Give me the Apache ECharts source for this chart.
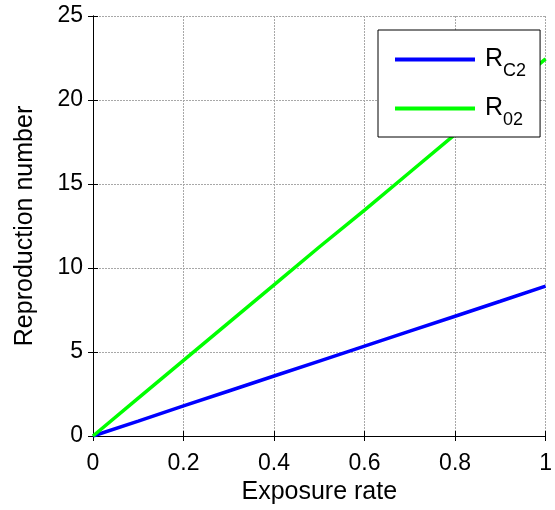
<!DOCTYPE html>
<html>
<head>
<meta charset="UTF-8">
<title></title>
<script src="https://cdn.jsdelivr.net/npm/echarts@6/dist/echarts.min.js"></script>
<style>
  body { margin: 0; background: #fff; }
</style>
</head>
<body>
<div id="content" style="width:555px;height:510px;"></div>
<script>
// data
var rates = [0, 0.1, 0.2, 0.3, 0.4, 0.5, 0.6, 0.7, 0.8, 0.9, 1.0];
var rc2 = [0, 0.89, 1.79, 2.68, 3.57, 4.46, 5.35, 6.24, 7.13, 8.02, 8.92];
var r02 = [0, 2.25, 4.5, 6.75, 9.0, 11.25, 13.45, 15.7, 17.95, 20.2, 22.45];
var seriesNames = ['RC2', 'R02'];
var subscripts = { RC2: 'C2', R02: '02' };

function pairs(xs, ys) {
    var out = [];
    for (var i = 0; i < xs.length; i++) out.push([xs[i], ys[i]]);
    return out;
}

var myChart = echarts.init(document.getElementById('content'));
var fontFam = 'Liberation Sans, Arial, sans-serif';

var option = {
    animation: false,
    textStyle: { fontFamily: fontFam, color: '#000' },
    grid: { left: 93, right: 7, top: 16, bottom: 74 },
    legend: {
        orient: 'vertical',
        left: 378,
        top: 30,
        padding: [17, 14, 8, 17],
        itemGap: 16,
        itemWidth: 80,
        itemHeight: 4,
        icon: 'rect',
        backgroundColor: '#fff',
        borderColor: '#000',
        borderWidth: 1,
        borderRadius: 0,
        data: seriesNames,
        formatter: function (name) {
            return '{r|R}{s|' + subscripts[name] + '}';
        },
        textStyle: {
            fontFamily: fontFam,
            color: '#000',
            rich: {
                r: { fontSize: 25, fontFamily: fontFam, lineHeight: 41, verticalAlign: 'middle', padding: [0, 0, 0, 5] },
                s: { fontSize: 18, fontFamily: fontFam, lineHeight: 18, verticalAlign: 'bottom' }
            }
        }
    },
    xAxis: [
        {
            type: 'value',
            min: 0, max: 1, interval: 0.2,
            name: 'Exposure rate',
            nameLocation: 'middle',
            nameGap: 44,
            nameTextStyle: { fontSize: 25, fontFamily: fontFam, color: '#000' },
            axisLine: { show: true, lineStyle: { color: '#000', width: 1 } },
            axisTick: { show: true, inside: true, length: 5, lineStyle: { color: '#000' } },
            axisLabel: { fontSize: 23, color: '#000', margin: 16 },
            splitLine: { show: true, lineStyle: { color: '#a8a8a8', type: [2, 1], width: 1 } }
        },
        {
            type: 'value', position: 'top',
            min: 0, max: 1, interval: 0.2,
            axisLine: { show: true, lineStyle: { color: '#000', width: 1 } },
            axisTick: { show: true, inside: true, length: 5, lineStyle: { color: '#000' } },
            axisLabel: { show: false },
            splitLine: { show: false }
        }
    ],
    yAxis: [
        {
            type: 'value',
            min: 0, max: 25, interval: 5,
            name: 'Reproduction number',
            nameLocation: 'middle',
            nameGap: 55,
            nameTextStyle: { fontSize: 25, fontFamily: fontFam, color: '#000' },
            axisLine: { show: true, lineStyle: { color: '#000', width: 1 } },
            axisTick: { show: true, inside: true, length: 5, lineStyle: { color: '#000' } },
            axisLabel: { fontSize: 23, color: '#000', margin: 10 },
            splitLine: { show: true, lineStyle: { color: '#a8a8a8', type: [2, 1], width: 1 } }
        },
        {
            type: 'value', position: 'right',
            min: 0, max: 25, interval: 5,
            axisLine: { show: true, lineStyle: { color: '#000', width: 1 } },
            axisTick: { show: true, inside: true, length: 5, lineStyle: { color: '#000' } },
            axisLabel: { show: false },
            splitLine: { show: false }
        }
    ],
    series: [
        {
            name: 'RC2',
            type: 'line',
            showSymbol: false,
            symbol: 'none',
            color: '#0000ff',
            lineStyle: { width: 3.5, color: '#0000ff' },
            data: pairs(rates, rc2)
        },
        {
            name: 'R02',
            type: 'line',
            showSymbol: false,
            symbol: 'none',
            color: '#00ff00',
            lineStyle: { width: 3.5, color: '#00ff00' },
            data: pairs(rates, r02)
        }
    ]
};

myChart.setOption(option);
</script>
</body>
</html>
